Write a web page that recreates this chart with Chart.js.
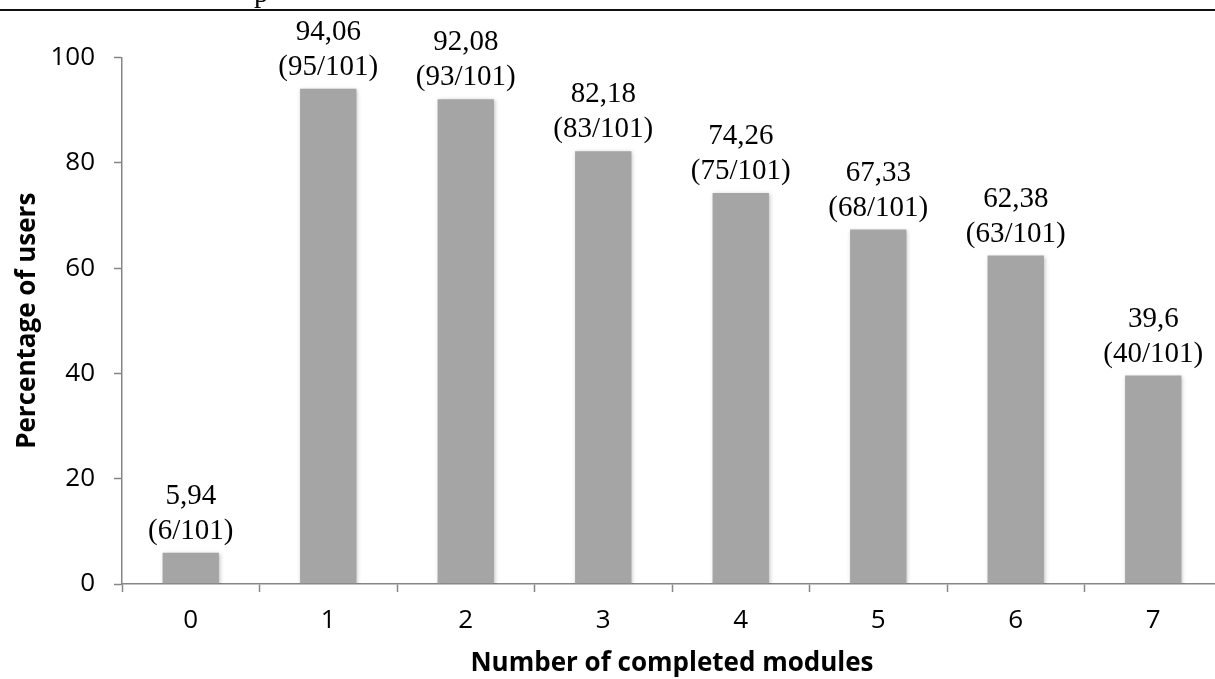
<!DOCTYPE html>
<html>

<head>
    <meta charset="utf-8">
    <title>Completed modules</title>
    <style>
        html, body { margin: 0; padding: 0; background: #fff; overflow: hidden; }
        #wrap { position: relative; width: 1215px; height: 679px; overflow: hidden; }
        #rule { position: absolute; left: 0; top: 9px; width: 1215px; height: 2px; background: #111; }
        #cut { position: absolute; left: 254px; top: -24px; font: 29px "Liberation Serif", serif; color: #000; }
        canvas { position: absolute; left: 0; top: 0; }
    </style>
</head>

<body>
    <div id="wrap">
        <canvas id="myChart" width="1222" height="679"></canvas>
        <div id="rule"></div>
        <div id="cut">p</div>
    </div>
    <script src="https://cdn.jsdelivr.net/npm/chart.js@4.4.6/dist/chart.umd.min.js"></script>
    <script>
        const modules = ["0", "1", "2", "3", "4", "5", "6", "7"]
        const percentUsers = [5.94, 94.06, 92.08, 82.18, 74.26, 67.33, 62.38, 39.6]
        const userCounts = [6, 95, 93, 83, 75, 68, 63, 40]
        const totalUsers = 101
        const yTicks = [0, 20, 40, 60, 80, 100]

        const AXIS = "#868686"
        const BAR = "#a5a5a5"
        const SANS = "'Open Sans', sans-serif"

        // two-line labels above each bar: "94,06" / "(95/101)"
        const barLabels = {
            id: "barLabels",
            afterDatasetsDraw(chart) {
                const ctx = chart.ctx
                const meta = chart.getDatasetMeta(0)
                ctx.save()
                ctx.fillStyle = "#000"
                ctx.font = "29px 'Liberation Serif', serif"
                ctx.textAlign = "center"
                ctx.textBaseline = "alphabetic"
                meta.data.forEach((bar, i) => {
                    const v = String(percentUsers[i]).replace(".", ",")
                    const c = "(" + userCounts[i] + "/" + totalUsers + ")"
                    ctx.fillText(c, bar.x, bar.y - 14)
                    ctx.fillText(v, bar.x, bar.y - 49)
                })
                ctx.restore()
            },
        }

        // soft shadow like the office chart
        const barShadow = {
            id: "barShadow",
            beforeDatasetDraw(chart) {
                const ctx = chart.ctx
                ctx.save()
                ctx.shadowColor = "rgba(0,0,0,0.25)"
                ctx.shadowBlur = 4
                ctx.shadowOffsetX = 1
                ctx.shadowOffsetY = 1
            },
            afterDatasetDraw(chart) {
                chart.ctx.restore()
            },
        }

        new Chart(document.getElementById("myChart"), {
            type: "bar",
            data: {
                labels: modules,
                datasets: [{
                    data: percentUsers,
                    backgroundColor: BAR,
                    borderWidth: 0,
                    barPercentage: 0.41,
                    categoryPercentage: 1,
                }],
            },
            options: {
                responsive: false,
                animation: false,
                layout: { padding: { top: 57.5, left: 0, right: 0, bottom: 0 } },
                plugins: {
                    legend: { display: false },
                    tooltip: { enabled: false },
                },
                scales: {
                    x: {
                        afterFit: s => { s.height = 95 },
                        grid: {
                            offset: true,
                            drawOnChartArea: false,
                            tickLength: 8,
                            tickColor: AXIS,
                            tickWidth: 1.5,
                        },
                        border: { color: AXIS, width: 1.5 },
                        ticks: {
                            color: "#000",
                            padding: 13,
                            font: { family: SANS, size: 26 },
                        },
                        title: {
                            display: true,
                            text: "Number of completed modules",
                            color: "#000",
                            padding: { top: 0, bottom: 0 },
                            font: { family: SANS, size: 26, weight: "bold" },
                        },
                    },
                    y: {
                        min: 0,
                        max: 100,
                        afterFit: s => { s.width = 122 },
                        afterBuildTicks: s => { s.ticks = yTicks.map(v => ({ value: v })) },
                        grid: {
                            drawOnChartArea: false,
                            tickLength: 8,
                            tickColor: AXIS,
                            tickWidth: 1.5,
                        },
                        border: { color: AXIS, width: 1.5 },
                        ticks: {
                            color: "#000",
                            padding: 19,
                            font: { family: SANS, size: 26 },
                        },
                        title: {
                            display: true,
                            text: "Percentage of users",
                            color: "#000",
                            padding: { top: 12, bottom: 0 },
                            font: { family: SANS, size: 26, weight: "bold" },
                        },
                    },
                },
            },
            plugins: [barShadow, barLabels],
        })
    </script>
</body>

</html>
